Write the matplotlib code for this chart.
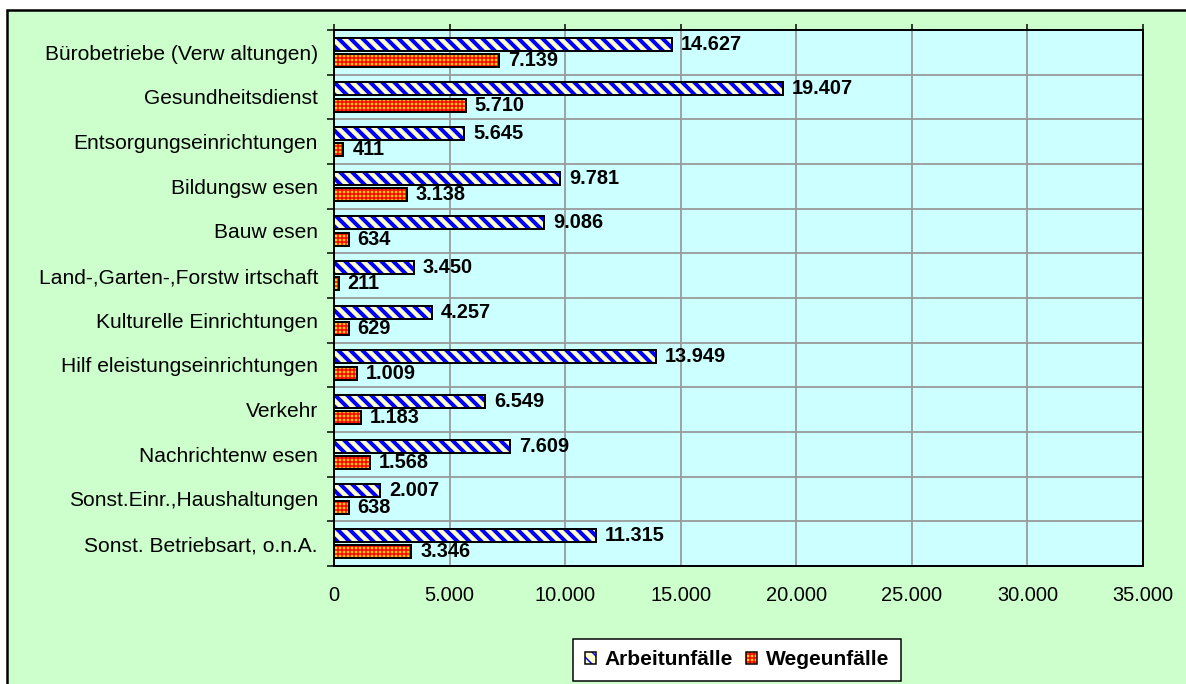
import matplotlib
matplotlib.use("Agg")
import matplotlib.pyplot as plt
from matplotlib.patches import Rectangle, Patch
from matplotlib.legend_handler import HandlerTuple
import numpy as np

categories = ["Bürobetriebe (Verw altungen)", "Gesundheitsdienst", "Entsorgungseinrichtungen",
              "Bildungsw esen", "Bauw esen", "Land-,Garten-,Forstw irtschaft",
              "Kulturelle Einrichtungen", "Hilf eleistungseinrichtungen", "Verkehr",
              "Nachrichtenw esen", "Sonst.Einr.,Haushaltungen", "Sonst. Betriebsart, o.n.A."]
arbeit = [14627, 19407, 5645, 9781, 9086, 3450, 4257, 13949, 6549, 7609, 2007, 11315]
wege = [7139, 5710, 411, 3138, 634, 211, 629, 1009, 1183, 1568, 638, 3346]
xticks = [0, 5000, 10000, 15000, 20000, 25000, 30000, 35000]
series_names = ["Arbeitunfälle", "Wegeunfälle"]

def de(v):
    return f"{v:,}".replace(",", ".")

plt.rcParams['font.family'] = ['Liberation Sans', 'DejaVu Sans']
plt.rcParams['hatch.linewidth'] = 4.0
DPI = 72
W, H = 1186, 684
fig = plt.figure(figsize=(W / DPI, H / DPI), dpi=DPI, facecolor='white')

fig.add_artist(Rectangle((7 / W, -0.1), 2, (H - 10) / H + 0.1, transform=fig.transFigure,
                         facecolor='#CCFFCC', edgecolor='black', linewidth=2.5, zorder=0))

ax = fig.add_axes([334 / W, (H - 566) / H, (1143 - 334) / W, (566 - 30) / H])
ax.set_facecolor('#CCFFFF')

y = np.arange(len(categories))
h = 0.29
off = 0.18

ax.barh(y - off, arbeit, height=h, color='#FFFFCC', edgecolor='#0000FF', hatch='\\\\', linewidth=0, zorder=3)
with plt.rc_context({'hatch.linewidth': 1.5}):
    ax.barh(y + off, wege, height=h, color='#FFCC00', edgecolor='#FF0000', hatch='+++', linewidth=0, zorder=3)
ax.barh(y - off, arbeit, height=h, fill=False, edgecolor='black', linewidth=2, zorder=4)
ax.barh(y + off, wege, height=h, fill=False, edgecolor='black', linewidth=2, zorder=4)

for yi, v in zip(y, arbeit):
    ax.text(v + 380, yi - off, de(v), va='center', ha='left', fontsize=20, fontweight='bold', zorder=5)
for yi, v in zip(y, wege):
    ax.text(v + 380, yi + off, de(v), va='center', ha='left', fontsize=20, fontweight='bold', zorder=5)

ax.set_xlim(0, 35000)
ax.set_ylim(len(categories) - 0.5, -0.5)
ax.set_xticks(xticks)
ax.set_xticklabels([de(v) for v in xticks])
ax.set_yticks(y)
ax.set_yticklabels(categories)
ax.set_yticks(np.arange(len(categories) + 1) - 0.5, minor=True)
ax.tick_params(axis='y', which='major', length=0, labelsize=21, pad=16)
ax.tick_params(axis='y', which='minor', length=7, width=1.5, direction='out')
ax.tick_params(axis='x', which='major', top=True, bottom=False, labeltop=False, labelbottom=True,
               length=6, width=1.5, direction='out', labelsize=20, pad=14)
ax.grid(axis='x', which='major', color='#999999', linewidth=1.8, zorder=1)
ax.grid(axis='y', which='minor', color='#999999', linewidth=1.8, zorder=1)
ax.set_axisbelow(True)
for s in ax.spines.values():
    s.set_linewidth(2)
    s.set_color('black')

h1 = (Patch(facecolor='#FFFFCC', edgecolor='#0000FF', hatch='\\\\', linewidth=0),
      Patch(fill=False, edgecolor='black', linewidth=1.5))
with plt.rc_context({'hatch.linewidth': 1.5}):
    h2 = (Patch(facecolor='#FFCC00', edgecolor='#FF0000', hatch='+++', linewidth=0),
          Patch(fill=False, edgecolor='black', linewidth=1.5))
    leg = fig.legend([h1, h2], series_names, loc='lower center', bbox_to_anchor=(737 / W, 3 / H),
                     ncol=2, frameon=True, fancybox=False, framealpha=1, edgecolor='black',
                     prop={'weight': 'bold', 'size': 21}, handlelength=0.55, handleheight=0.55,
                     handletextpad=0.4, columnspacing=0.6, borderpad=0.55, borderaxespad=0,
                     handler_map={tuple: HandlerTuple(ndivide=1, pad=0)})
leg.get_frame().set_linewidth(1.5)

fig.savefig('out.png', dpi=DPI, facecolor='white')
